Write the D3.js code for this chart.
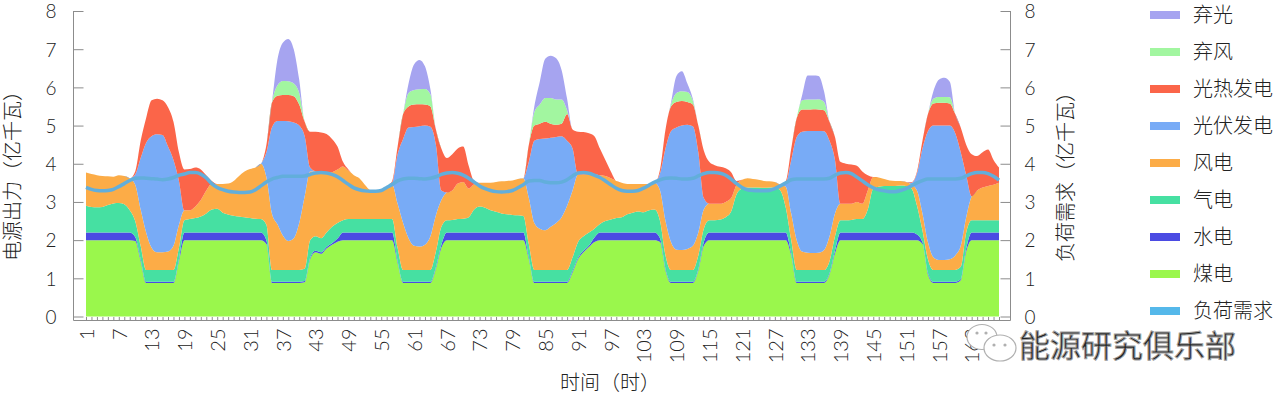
<!DOCTYPE html>
<html>
<head>
<meta charset="utf-8">
<script src="https://cdn.jsdelivr.net/npm/d3@7"></script>
<style>
body { margin: 0; background: #fff; }
text { font-family: Lato, "Noto Sans CJK SC", sans-serif; font-weight: 300; fill: #222; }
</style>
</head>
<body>
<svg id="mainSVG" width="1280" height="397"></svg>
<script>
// hours 1..168 (one week)
const hours = d3.range(1, 169)
const xTickLabels = d3.range(1, 169, 6)
const yTicks = [0, 1, 2, 3, 4, 5, 6, 7, 8]

// 煤电
const coal = [
  2,2,2,2,2,2,2,2,2,1.98,1.45,.88,.88,.88,.88,.88,.88,1.45,2,2,2,2,2,2,
  2,2,2,2,2,2,2,2,2,1.9,.88,.88,.88,.88,.88,.88,.9,1.5,1.68,1.64,1.78,1.88,1.96,2,
  2,2,2,2,2,2,2,2,2,1.4,.88,.88,.88,.88,.88,.88,1.25,1.8,2,2,2,2,2,2,
  2,2,2,2,2,2,2,2,2,1.5,.88,.88,.88,.88,.88,.88,.88,1.15,1.5,1.68,1.82,1.95,2,2,
  2,2,2,2,2,2,2,2,2,1.95,1.2,.88,.88,.88,.88,.88,1.2,1.85,2,2,2,2,2,2,
  2,2,2,2,2,2,2,2,2,1.6,.88,.88,.88,.88,.88,.88,1.1,1.65,2,2,2,2,2,2,
  2,2,2,2,2,2,2,2,2,1.9,1.1,.88,.88,.88,.88,.88,.95,1.7,2,2,2,2,2,2
]
// 水电
const hydro = [
  .2,.2,.2,.2,.2,.2,.2,.2,.2,.1,.05,.03,.03,.03,.03,.03,.03,.05,.2,.2,.2,.2,.2,.2,
  .2,.2,.2,.2,.2,.2,.2,.2,.2,.1,.03,.03,.03,.03,.03,.03,.03,.04,.04,.04,.04,.04,.08,.2,
  .2,.2,.2,.2,.2,.2,.2,.2,.2,.05,.03,.03,.03,.03,.03,.03,.04,.08,.2,.2,.2,.2,.2,.2,
  .2,.2,.2,.2,.2,.2,.2,.2,.2,.05,.03,.03,.03,.03,.03,.03,.03,.04,.04,.04,.04,.12,.2,.2,
  .2,.2,.2,.2,.2,.2,.2,.2,.2,.1,.04,.03,.03,.03,.03,.03,.04,.1,.2,.2,.2,.2,.2,.2,
  .2,.2,.2,.2,.2,.2,.2,.2,.2,.05,.03,.03,.03,.03,.03,.03,.03,.08,.2,.2,.2,.2,.2,.2,
  .2,.2,.2,.2,.2,.2,.2,.2,.15,.05,.04,.03,.03,.03,.03,.03,.03,.08,.2,.2,.2,.2,.2,.2
]
// 气电
const gas = [
  .7,.67,.66,.67,.72,.76,.77,.74,.58,.42,.35,.31,.31,.31,.31,.31,.31,.3,.32,.35,.38,.42,.5,.6,
  .62,.52,.47,.44,.42,.4,.38,.36,.35,.4,.31,.31,.31,.31,.31,.31,.32,.46,.38,.37,.38,.43,.41,.32,
  .35,.35,.35,.35,.35,.35,.35,.35,.35,.35,.31,.31,.31,.31,.31,.31,.41,.47,.32,.33,.35,.36,.4,.6,
  .68,.65,.58,.54,.5,.48,.46,.45,.43,.35,.31,.31,.31,.31,.31,.31,.31,.36,.41,.38,.34,.23,.22,.3,
  .34,.38,.4,.48,.52,.55,.53,.58,.6,.45,.36,.31,.31,.31,.31,.31,.36,.35,.32,.32,.34,.4,.55,1.0,
  1.15,1.18,1.18,1.18,1.17,1.18,1.18,1.1,.65,.35,.31,.31,.31,.31,.31,.31,.32,.37,.32,.32,.33,.35,.35,.6,
  1.15,1.2,1.22,1.22,1.22,1.23,1.22,1.15,.75,.3,.36,.31,.31,.31,.31,.31,.32,.42,.32,.32,.32,.32,.32,.32
]
// 风电
const wind = [
  .87,.86,.84,.81,.75,.7,.73,.74,.84,.95,.95,.98,.58,.46,.46,.48,.63,.6,.26,.23,.3,.43,.6,.67,
  .65,.75,.81,.91,1.06,1.2,1.28,1.34,1.45,1.25,1.48,1.2,.9,.76,.83,1.23,1.9,1.8,1.7,1.73,1.56,1.43,1.4,1.41,
  1.27,1.15,1.07,.9,.75,.7,.77,.85,.9,1.15,1.23,.83,.63,.61,.66,.88,.95,.7,.73,.77,.93,.96,.75,.66,
  .62,.65,.72,.78,.84,.87,.9,.95,.99,1.2,1.23,1.08,1.04,1.13,1.23,1.38,1.68,1.75,1.77,1.62,1.52,1.42,1.28,1.18,
  1.08,.97,.9,.79,.75,.72,.74,.69,.7,.8,.9,.73,.53,.52,.55,.63,.6,.5,.43,.43,.41,.4,.35,.25,
  .23,.24,.22,.2,.18,.16,.14,.15,.55,.7,.78,.48,.45,.44,.45,.52,.65,.6,.43,.43,.42,.45,.4,.5,
  .3,.24,.18,.14,.13,.12,.1,.1,.4,.45,.45,.33,.26,.26,.28,.38,.55,.4,.63,.78,.86,.9,.93,.98
]
// 光伏发电
const pv = [
  0,0,0,0,0,0,0,0,0,.27,1.35,2.35,2.92,3.09,3.07,2.75,2.25,1.15,0,0,0,0,0,0,
  0,0,0,0,0,0,0,0,0,.65,2.25,2.7,3.0,3.13,3.03,2.55,1.57,.1,0,0,0,0,0,0,
  0,0,0,0,0,0,0,0,.05,1.3,2.2,2.9,3.11,3.15,3.12,2.87,1.85,.25,0,0,0,0,0,0,
  0,0,0,0,0,0,0,0,0,.95,2.15,2.35,2.4,2.33,2.25,2.12,1.7,1.1,0,0,0,0,0,0,
  0,0,0,0,0,0,0,0,0,.45,1.9,2.9,3.2,3.26,3.25,3.13,2.1,.3,0,0,0,0,0,0,
  0,0,0,0,0,0,0,0,.1,1.4,2.7,3.14,3.19,3.2,3.19,3.11,2.5,1.4,0,0,0,0,0,0,
  0,0,0,0,0,0,0,.05,.45,1.7,2.9,3.45,3.52,3.52,3.5,3.2,2.45,1.1,0,0,0,0,0,0
]
// 光热发电
const csp = [
  0,0,0,0,0,0,0,0,0,.08,.45,.65,.94,.93,.91,1.03,1.0,.75,1.07,1.08,1.02,.8,.4,.08,
  0,0,0,0,0,0,0,0,0,.2,.65,.66,.68,.69,.69,.55,.38,.94,1.04,1.04,1.02,.87,.6,.12,
  .03,0,0,0,0,0,0,0,.05,.2,.65,.55,.59,.58,.55,.53,.4,1.1,.9,.95,.92,.93,.6,.09,
  0,0,0,0,0,0,0,0,0,.45,.4,.4,.44,.37,.32,.33,.7,.5,1.12,1.11,1.08,1.0,.7,.42,
  .18,0,0,0,0,0,0,0,0,.1,.5,.65,.67,.64,.6,.57,.7,1.25,1.1,1.01,.97,.88,.68,.1,
  0,0,0,0,0,0,0,0,.05,.3,.5,.58,.56,.57,.56,.55,.5,.6,1.1,1.05,1.03,.95,.85,.4,
  0,0,0,0,0,0,0,.02,.05,.2,.45,.58,.6,.6,.58,.5,.65,.8,1.1,.9,.92,.95,.65,.4
]
// 弃风
const cutWind = [
  0,0,0,0,0,0,0,0,0,0,0,0,0,0,0,0,0,0,0,0,0,0,0,0,
  0,0,0,0,0,0,0,0,0,0,0,.27,.37,.36,.33,.3,0,0,0,0,0,0,0,0,
  0,0,0,0,0,0,0,0,0,0,0,.35,.38,.39,.41,.32,0,0,0,0,0,0,0,0,
  0,0,0,0,0,0,0,0,0,0,.35,.5,.62,.67,.66,.63,.1,0,0,0,0,0,0,0,
  0,0,0,0,0,0,0,0,0,0,0,.05,.23,.26,.26,.1,0,0,0,0,0,0,0,0,
  0,0,0,0,0,0,0,0,0,0,0,.24,.26,.25,.27,.22,0,0,0,0,0,0,0,0,
  0,0,0,0,0,0,0,0,0,0,0,.12,.15,.15,.16,0,0,0,0,0,0,0,0,0
]
// 弃光
const cutPv = [
  0,0,0,0,0,0,0,0,0,0,0,0,0,0,0,0,0,0,0,0,0,0,0,0,
  0,0,0,0,0,0,0,0,0,0,0,.67,1.0,1.11,.9,.35,0,0,0,0,0,0,0,0,
  0,0,0,0,0,0,0,0,0,0,0,.25,.67,.77,.59,.13,0,0,0,0,0,0,0,0,
  0,0,0,0,0,0,0,0,0,0,.15,.6,1.03,1.11,1.08,.77,.3,0,0,0,0,0,0,0,
  0,0,0,0,0,0,0,0,0,0,0,.05,.45,.52,.22,.05,0,0,0,0,0,0,0,0,
  0,0,0,0,0,0,0,0,0,0,0,.14,.63,.63,.61,.28,0,0,0,0,0,0,0,0,
  0,0,0,0,0,0,0,0,0,0,0,.2,.45,.5,.41,0,0,0,0,0,0,0,0,0
]
// 负荷需求
const load = [
  3.38,3.33,3.3,3.29,3.3,3.33,3.4,3.48,3.56,3.62,3.63,3.62,3.61,3.6,3.58,3.6,3.64,3.7,3.73,3.77,3.77,3.73,3.63,3.48,
  3.38,3.32,3.28,3.26,3.25,3.25,3.26,3.32,3.42,3.52,3.6,3.64,3.67,3.67,3.67,3.67,3.68,3.72,3.76,3.77,3.76,3.72,3.66,3.56,
  3.46,3.37,3.32,3.29,3.28,3.28,3.3,3.38,3.46,3.55,3.6,3.62,3.62,3.61,3.6,3.62,3.66,3.72,3.76,3.77,3.75,3.7,3.62,3.52,
  3.42,3.35,3.3,3.27,3.26,3.27,3.3,3.37,3.45,3.55,3.56,3.56,3.52,3.5,3.5,3.52,3.58,3.68,3.76,3.77,3.75,3.7,3.64,3.55,
  3.45,3.36,3.3,3.28,3.28,3.3,3.36,3.44,3.52,3.58,3.62,3.63,3.62,3.6,3.6,3.62,3.68,3.74,3.77,3.77,3.75,3.7,3.6,3.48,
  3.38,3.32,3.3,3.29,3.29,3.3,3.35,3.42,3.5,3.58,3.6,3.6,3.6,3.6,3.6,3.6,3.62,3.7,3.76,3.77,3.74,3.65,3.55,3.45,
  3.37,3.32,3.29,3.27,3.27,3.3,3.35,3.42,3.5,3.56,3.6,3.6,3.6,3.6,3.6,3.6,3.62,3.68,3.74,3.77,3.77,3.74,3.67,3.57
]

const keys = ["coal", "hydro", "gas", "wind", "pv", "csp", "cutWind", "cutPv"]
const colors = {
  coal: "#9af74c", hydro: "#4b4be3", gas: "#46e0a2", wind: "#fcac47",
  pv: "#78abf6", csp: "#fb6549", cutWind: "#a2f6a0", cutPv: "#a6a4f0", load: "#55b8ea"
}
const legendItems = [
  ["弃光", "cutPv"], ["弃风", "cutWind"], ["光热发电", "csp"], ["光伏发电", "pv"],
  ["风电", "wind"], ["气电", "gas"], ["水电", "hydro"], ["煤电", "coal"], ["负荷需求", "load"]
]

const svg = d3.select("#mainSVG")
const left = 73.5, right = 1010.5, bottom = 320.5

const x = d3.scaleLinear().domain([1, 168]).range([86, 999])
const y = d3.scaleLinear().domain([0, 8]).range([316.5, 11])

const rows = hours.map((h, i) => ({
  hour: h, coal: coal[i], hydro: hydro[i], gas: gas[i], wind: wind[i],
  pv: pv[i], csp: csp[i], cutWind: cutWind[i], cutPv: cutPv[i]
}))
const stacked = d3.stack().keys(keys)(rows)

const area = d3.area()
  .x(d => x(d.data.hour))
  .y0(d => y(d[0]))
  .y1(d => y(d[1]))
  .curve(d3.curveMonotoneX)

svg.append("g").selectAll("path")
  .data(stacked)
  .join("path")
  .attr("d", area)
  .attr("fill", d => colors[d.key])

// load line
const line = d3.line()
  .x((d, i) => x(hours[i]))
  .y(d => y(d))
  .curve(d3.curveMonotoneX)

svg.append("path")
  .datum(load)
  .attr("d", line)
  .attr("fill", "none")
  .attr("stroke", "#62aedb")
  .attr("stroke-width", 3.5)

// axes
const axisColor = "#8c8c8c"

const gLeft = svg.append("g")
  .attr("transform", `translate(${left},0)`)
  .call(d3.axisLeft(y).tickValues(yTicks).tickSize(-10).tickPadding(17))
const gRight = svg.append("g")
  .attr("transform", `translate(${right},0)`)
  .call(d3.axisRight(y).tickValues(yTicks).tickSize(-10).tickPadding(14))
const gBottom = svg.append("g")
  .attr("transform", `translate(0,${bottom})`)
  .call(d3.axisBottom(x).tickValues(hours).tickSize(-3.5)
    .tickFormat(d => xTickLabels.includes(d) ? d : ""))

for (const g of [gLeft, gRight, gBottom]) {
  g.select(".domain").remove()
  g.selectAll(".tick line").attr("stroke", axisColor)
  g.selectAll("text").attr("font-size", 20).attr("fill", "#222")
    .style("font-family", "Lato, sans-serif").style("font-weight", 300)
}
gLeft.selectAll("text").attr("font-size", 19).attr("dy", "0.36em")
gRight.selectAll("text").attr("font-size", 19).attr("dy", "0.36em")
gBottom.selectAll("text")
  .attr("transform", "rotate(-90)")
  .attr("x", -8)
  .attr("y", 0)
  .attr("dy", "0.36em")
  .attr("text-anchor", "end")

svg.append("path")
  .attr("d", `M${left},${y(8)}V${bottom}H${right}V${y(8)}`)
  .attr("fill", "none")
  .attr("stroke", axisColor)

// axis titles
svg.append("text")
  .attr("transform", "translate(20,171) rotate(-90)")
  .attr("text-anchor", "middle")
  .attr("font-size", 20)
  .text("电源出力（亿千瓦）")
svg.append("text")
  .attr("transform", "translate(1073,172) rotate(-90)")
  .attr("text-anchor", "middle")
  .attr("font-size", 20)
  .text("负荷需求（亿千瓦）")
svg.append("text")
  .attr("x", 610)
  .attr("y", 390)
  .attr("text-anchor", "middle")
  .attr("font-size", 20)
  .text("时间（时）")

// legend
const legend = svg.append("g").attr("transform", "translate(1150,15)")
const items = legend.selectAll("g")
  .data(legendItems)
  .join("g")
  .attr("transform", (d, i) => `translate(0,${i * 37})`)
items.append("rect")
  .attr("x", 0).attr("y", -4)
  .attr("width", 30).attr("height", 8)
  .attr("fill", d => colors[d[1]])
items.append("text")
  .attr("x", 43)
  .attr("dy", "0.35em")
  .attr("font-size", 20)
  .text(d => d[0])

// watermark
const wm = svg.append("g")
wm.append("ellipse").attr("cx", 982).attr("cy", 337).attr("rx", 15).attr("ry", 12.5)
  .attr("fill", "#fff").attr("stroke", "#b0b0b0").attr("stroke-width", 1.2)
wm.append("ellipse").attr("cx", 1000).attr("cy", 348).attr("rx", 16).attr("ry", 13)
  .attr("fill", "#fff").attr("stroke", "#b0b0b0").attr("stroke-width", 1.2)
for (const c of [[977, 333], [986, 333], [994, 345], [1005, 345]]) {
  wm.append("circle").attr("cx", c[0]).attr("cy", c[1]).attr("r", 1.6).attr("fill", "#b0b0b0")
}
wm.append("text")
  .attr("x", 1019)
  .attr("y", 357)
  .attr("font-size", 31)
  .attr("fill", "#fff")
  .attr("stroke", "#a0a0a0")
  .attr("stroke-width", 1)
  .style("font-weight", 400)
  .text("能源研究俱乐部")
</script>
</body>
</html>
